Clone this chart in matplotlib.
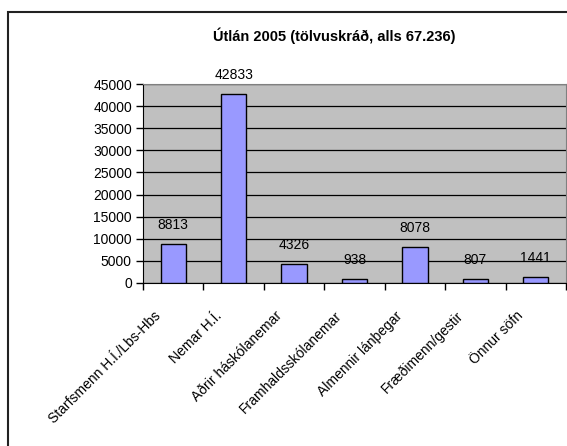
import matplotlib.pyplot as plt
from matplotlib.patches import Rectangle

plt.rcParams['font.family'] = ['Liberation Sans', 'DejaVu Sans']

# --- gögn ---
flokkar = ["Starfsmenn H.Í./Lbs-Hbs", "Nemar H.Í.", "Aðrir háskólanemar",
           "Framhaldsskólanemar", "Almennir lánþegar", "Fræðimenn/gestir",
           "Önnur söfn"]
utlan = [8813, 42833, 4326, 938, 8078, 807, 1441]
yticks = [0, 5000, 10000, 15000, 20000, 25000, 30000, 35000, 40000, 45000]

W, H = 567, 446
fig = plt.figure(figsize=(W / 100, H / 100), dpi=100)

# ramminn utan um allt (fer út fyrir myndina hægra megin og neðst)
fig.patches.append(Rectangle((8 / W, -0.1), 1.2, 1 - 12 / H + 0.1,
                             transform=fig.transFigure, fill=False,
                             edgecolor='#222222', linewidth=1.5))

ax = fig.add_axes([143 / W, (H - 283) / H, 423 / W, (283 - 84) / H])
ax.set_facecolor('#C0C0C0')

x = range(len(flokkar))
ax.bar(x, utlan, width=0.42, color='#9999FF', edgecolor='black',
       linewidth=1, zorder=3)
for xi, v in zip(x, utlan):
    ax.text(xi, v + 2700, str(v), ha='center', va='bottom', fontsize=10,
            zorder=4)

ax.set_xlim(-0.5, len(flokkar) - 0.5)
ax.set_ylim(0, 45000)
ax.set_yticks(yticks)
ax.set_yticklabels([str(t) for t in yticks], fontsize=10)
ax.yaxis.grid(True, color='black', linewidth=0.9, zorder=1)
ax.set_axisbelow(True)

ax.set_xticks([i + 0.5 for i in range(-1, len(flokkar))])
ax.set_xticklabels([])
ax.tick_params(axis='x', direction='out', length=5, width=1)
ax.tick_params(axis='y', direction='out', length=5, width=1, pad=3)
for xi, lab in zip(x, flokkar):
    ax.text(xi - 0.32, -5800, lab, rotation=45, ha='right', va='top',
            rotation_mode='anchor', fontsize=10, transform=ax.transData)

ax.spines['left'].set_color('black')
ax.spines['bottom'].set_color('black')
ax.spines['top'].set_color('#808080')
ax.spines['right'].set_color('#808080')

fig.text(334 / W, 1 - 36 / H, "Útlán 2005 (tölvuskráð, alls 67.236)",
         ha='center', va='center', fontsize=10.5, fontweight='bold')

fig.savefig("out.png", dpi=100)
